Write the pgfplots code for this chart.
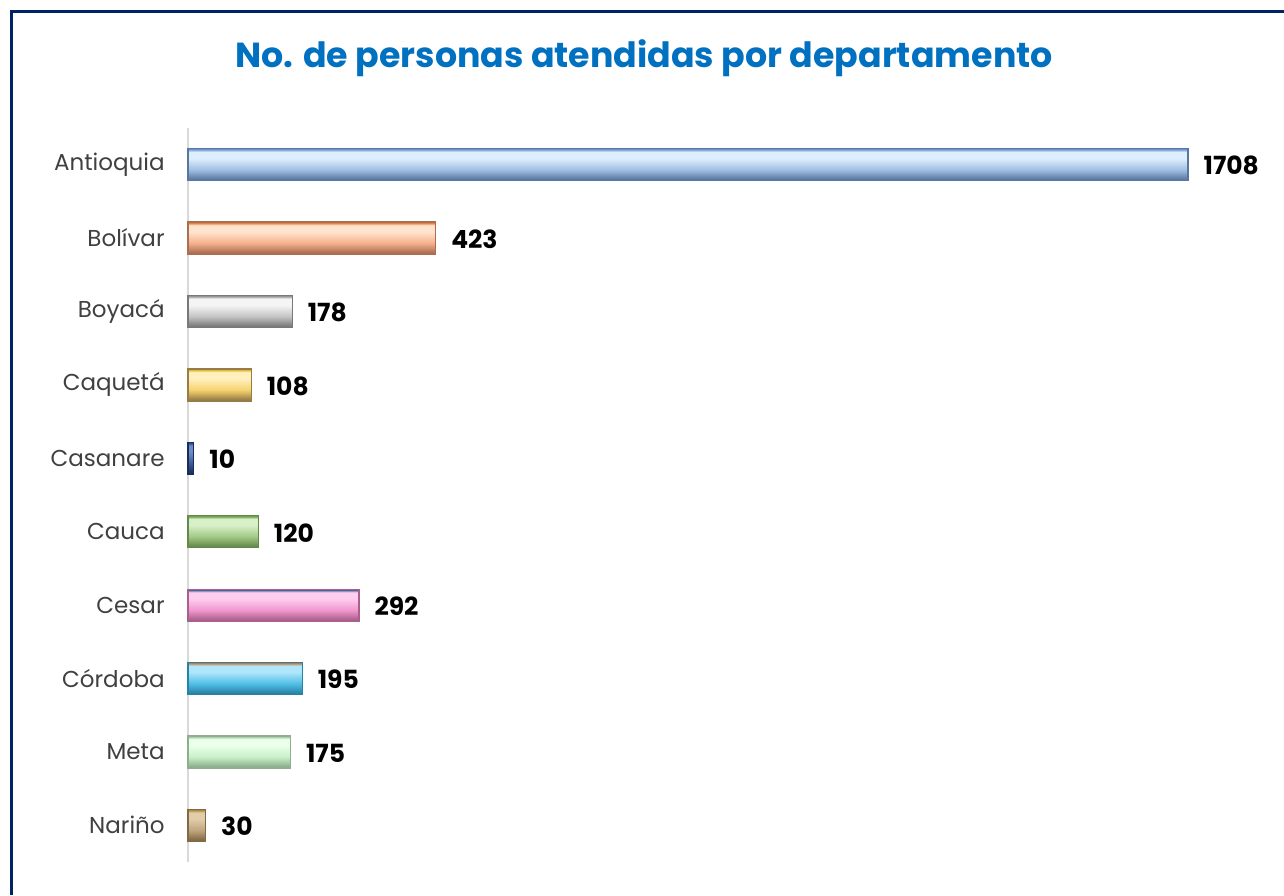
\documentclass[border=0pt]{standalone}
\usepackage{pgfplots}
\pgfplotsset{compat=1.18}
\usepackage{fontspec}
\setmainfont{Poppins}
\definecolor{frame}{RGB}{0,35,102}
\definecolor{titleblue}{RGB}{0,112,192}
\definecolor{lblgray}{RGB}{64,64,64}
% bevel shadings: name, dark, base, light, edge
\newcommand\bevel[5]{%
  \pgfdeclareverticalshading{#1}{100bp}{color(0bp)=(#2); color(27bp)=(#2); color(42bp)=(#3); color(60bp)=(#4); color(70bp)=(#4); color(74bp)=(#5); color(100bp)=(#5)}}
\definecolor{aD}{RGB}{88,118,160}\definecolor{aB}{RGB}{160,190,225}\definecolor{aL}{RGB}{222,238,252}\definecolor{aE}{RGB}{110,150,205}
\definecolor{bD}{RGB}{170,110,80}\definecolor{bB}{RGB}{245,175,140}\definecolor{bL}{RGB}{255,228,205}\definecolor{bE}{RGB}{228,120,50}
\definecolor{cD}{RGB}{120,120,120}\definecolor{cB}{RGB}{195,195,195}\definecolor{cL}{RGB}{245,245,245}\definecolor{cE}{RGB}{150,150,150}
\definecolor{dD}{RGB}{150,125,70}\definecolor{dB}{RGB}{245,210,110}\definecolor{dL}{RGB}{255,240,190}\definecolor{dE}{RGB}{220,170,30}
\definecolor{eD}{RGB}{25,45,90}\definecolor{eB}{RGB}{60,90,150}\definecolor{eL}{RGB}{110,140,200}\definecolor{eE}{RGB}{40,70,130}
\definecolor{fD}{RGB}{100,135,75}\definecolor{fB}{RGB}{160,200,130}\definecolor{fL}{RGB}{215,240,200}\definecolor{fE}{RGB}{110,160,80}
\definecolor{gD}{RGB}{170,95,140}\definecolor{gB}{RGB}{240,150,205}\definecolor{gL}{RGB}{255,205,240}\definecolor{gE}{RGB}{60,90,140}
\definecolor{hD}{RGB}{40,130,165}\definecolor{hB}{RGB}{80,190,230}\definecolor{hL}{RGB}{175,230,250}\definecolor{hE}{RGB}{200,120,60}
\definecolor{iD}{RGB}{140,175,140}\definecolor{iB}{RGB}{200,240,200}\definecolor{iL}{RGB}{235,255,235}\definecolor{iE}{RGB}{160,200,160}
\definecolor{jD}{RGB}{130,105,70}\definecolor{jB}{RGB}{190,165,125}\definecolor{jL}{RGB}{225,205,170}\definecolor{jE}{RGB}{170,130,50}
\bevel{bevA}{aD}{aB}{aL}{aE}
\bevel{bevB}{bD}{bB}{bL}{bE}
\bevel{bevC}{cD}{cB}{cL}{cE}
\bevel{bevD}{dD}{dB}{dL}{dE}
\bevel{bevE}{eD}{eB}{eL}{eE}
\bevel{bevF}{fD}{fB}{fL}{fE}
\bevel{bevG}{gD}{gB}{gL}{gE}
\bevel{bevH}{hD}{hB}{hL}{hE}
\bevel{bevI}{iD}{iB}{iL}{iE}
\bevel{bevJ}{jD}{jB}{jL}{jE}
\newcommand\mybar[4]{%
  \addplot[xbar, bar shift=0pt, bar width=16pt, shade, shading=#1, draw=#2, line width=0.6pt,
    nodes near coords] coordinates {(#3,#4)};}
\begin{document}
\begin{tikzpicture}
\path[use as bounding box] (0pt,0pt) rectangle (642pt,447.5pt);
\draw[frame, line width=1.5pt] (5.75pt,0pt) -- (5.75pt,441.75pt) -- (642pt,441.75pt);
\node[titleblue, font=\bfseries\fontsize{17.4}{21}\selectfont] at (322pt,418.5pt) {No. de personas atendidas por departamento};
\begin{axis}[
  at={(94pt,16.5pt)}, anchor=south west,
  scale only axis, width=500pt, height=367pt,
  xmin=0, xmax=1708, ymin=-0.5, ymax=9.5, y dir=reverse,
  hide x axis, axis y line*=left,
  y axis line style={draw={rgb,255:red,217;green,217;blue,217}, line width=0.6pt},
  ytick={0,...,9},
  yticklabels={Antioquia,Bolívar,Boyacá,Caquetá,Casanare,Cauca,Cesar,Córdoba,Meta,Nariño},
  major tick length=0pt,
  yticklabel style={font=\fontsize{11.5}{14}\selectfont, text=lblgray, inner sep=0pt, xshift=-11.5pt},
  clip=false,
  /pgf/number format/assume math mode=true,
  /pgf/number format/1000 sep={},
  every node near coord/.append style={anchor=west, inner sep=0pt, xshift=7.5pt, yshift=-0.5pt, text=black, font=\bfseries\fontsize{12.5}{14}\selectfont},
]
\mybar{bevA}{aD}{1708}{0}
\mybar{bevB}{bD}{423}{1}
\mybar{bevC}{cD}{178}{2}
\mybar{bevD}{dD}{108}{3}
\mybar{bevE}{eD}{10}{4}
\mybar{bevF}{fD}{120}{5}
\mybar{bevG}{gD}{292}{6}
\mybar{bevH}{hD}{195}{7}
\mybar{bevI}{iD}{175}{8}
\mybar{bevJ}{jD}{30}{9}
\end{axis}
\end{tikzpicture}
\end{document}
